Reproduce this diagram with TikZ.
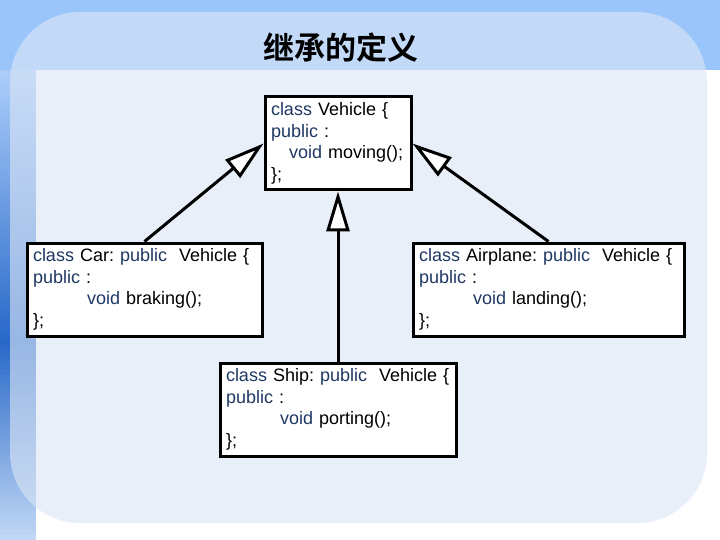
\documentclass[tikz,border=0pt]{standalone}
\usepackage{fontspec}
\usetikzlibrary{arrows.meta}
\newfontfamily\codefont{Liberation Sans}
\newfontfamily\cjk{Noto Sans CJK SC Bold}
\definecolor{topband}{RGB}{153,197,251}
\definecolor{striptop}{RGB}{172,205,250}
\definecolor{stripmid}{RGB}{40,104,200}
\definecolor{stripbot}{RGB}{196,218,246}
\definecolor{panel}{RGB}{218,229,245}
\definecolor{kwblue}{RGB}{31,56,100}
\newcommand{\kw}[1]{\textcolor{kwblue}{#1}}
\frenchspacing
\tikzset{
  cls/.style={draw, line width=3pt, fill=white, anchor=north west, align=left,
    inner xsep=6pt, inner ysep=5pt, minimum height=93pt,
    font=\codefont\fontsize{18}{21.5}\selectfont},
  inherit/.style={line width=3pt, -{Triangle[fill=white, length=40pt, width=23pt]}}
}
\begin{document}
\begin{tikzpicture}[x=1pt, y=-1pt]
\useasboundingbox (0,0) rectangle (720,540);

\fill[topband] (0,0) rectangle (720,70);
\foreach \y [evaluate=\y as \p using {(\y-70)/2.7}] in {70,75,...,340}
    \fill[stripmid!\p!striptop] (0,\y) rectangle (36,\y+5.5);
\foreach \y [evaluate=\y as \p using {100-(\y-340)/2}] in {340,345,...,535}
    \fill[stripmid!\p!stripbot] (0,\y) rectangle (36,\y+5.5);
\fill[panel, fill opacity=0.63, rounded corners=70pt] (10,12) rectangle (707,523);

\node (title) at (341,48) {\cjk\fontsize{31}{31}\selectfont 继承的定义};

\node[cls, text width=134pt] (vehicle) at (263.5,95.5)
  {\kw{class} Vehicle \{\\ \kw{public} :\\ \hspace*{18pt}\kw{void} moving();\\ \};};
\node[cls, text width=223pt] (car) at (25.5,241.5)
  {\kw{class} Car: \kw{public}\ \ Vehicle \{\\ \kw{public} :\\ \hspace*{54pt}\kw{void} braking();\\ \};};
\node[cls, text width=259pt] (airplane) at (411.5,241.5)
  {\kw{class} Airplane: \kw{public}\ \ Vehicle \{\\ \kw{public} :\\ \hspace*{54pt}\kw{void} landing();\\ \};};
\node[cls, text width=224pt] (ship) at (218.5,361.5)
  {\kw{class} Ship: \kw{public}\ \ Vehicle \{\\ \kw{public} :\\ \hspace*{54pt}\kw{void} porting();\\ \};};

\foreach \from/\to in {car.north/vehicle.west, ship.north/vehicle.south, airplane.north/vehicle.east}
    \draw[inherit] (\from) -- (\to);

\end{tikzpicture}
\end{document}
